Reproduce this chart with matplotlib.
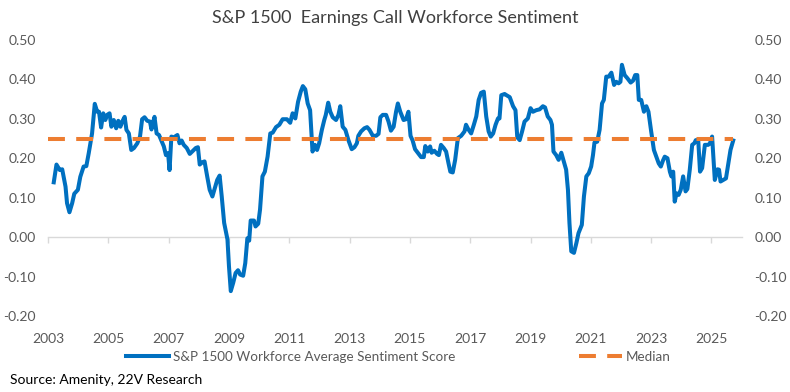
import numpy as np
import matplotlib.pyplot as plt

# Values (decimal year, sentiment score)
YEARS = [
    2003.19, 2003.28, 2003.39, 2003.47, 2003.58, 2003.63, 2003.71, 2003.80, 2003.87, 2003.99,
    2004.07, 2004.18, 2004.27, 2004.35, 2004.46, 2004.55, 2004.63, 2004.69, 2004.76, 2004.83,
    2004.90, 2004.96, 2005.04, 2005.10, 2005.18, 2005.26, 2005.33, 2005.40, 2005.46, 2005.54,
    2005.60, 2005.68, 2005.76, 2005.85, 2005.96, 2006.05, 2006.12, 2006.20, 2006.29, 2006.38,
    2006.43, 2006.49, 2006.53, 2006.60, 2006.68, 2006.75, 2006.84, 2006.91, 2006.98, 2007.03,
    2007.09, 2007.17, 2007.29, 2007.36, 2007.43, 2007.50, 2007.60, 2007.70, 2007.78, 2007.90,
    2007.97, 2008.03, 2008.12, 2008.19, 2008.28, 2008.36, 2008.45, 2008.53, 2008.61, 2008.69,
    2008.76, 2008.84, 2008.95, 2009.00, 2009.06, 2009.14, 2009.22, 2009.30, 2009.37, 2009.47,
    2009.54, 2009.61, 2009.67, 2009.72, 2009.83, 2009.88, 2009.97, 2010.03, 2010.11, 2010.19,
    2010.28, 2010.37, 2010.45, 2010.56, 2010.67, 2010.78, 2010.92, 2011.03, 2011.11, 2011.20,
    2011.29, 2011.38, 2011.45, 2011.53, 2011.61, 2011.69, 2011.77, 2011.85, 2011.92, 2011.99,
    2012.08, 2012.16, 2012.21, 2012.29, 2012.36, 2012.44, 2012.55, 2012.63, 2012.69, 2012.77,
    2012.86, 2012.96, 2013.07, 2013.16, 2013.24, 2013.29, 2013.38, 2013.49, 2013.58, 2013.66,
    2013.77, 2013.88, 2013.96, 2014.02, 2014.10, 2014.21, 2014.29, 2014.37, 2014.46, 2014.54,
    2014.60, 2014.68, 2014.79, 2014.87, 2014.95, 2015.02, 2015.09, 2015.17, 2015.26, 2015.37,
    2015.46, 2015.51, 2015.59, 2015.67, 2015.72, 2015.81, 2015.90, 2015.96, 2016.03, 2016.12,
    2016.20, 2016.28, 2016.34, 2016.42, 2016.50, 2016.59, 2016.70, 2016.81, 2016.86, 2016.94,
    2017.03, 2017.12, 2017.20, 2017.28, 2017.36, 2017.45, 2017.53, 2017.61, 2017.68, 2017.76,
    2017.84, 2017.92, 2017.97, 2018.03, 2018.14, 2018.20, 2018.31, 2018.42, 2018.50, 2018.56,
    2018.64, 2018.72, 2018.80, 2018.91, 2019.00, 2019.08, 2019.19, 2019.30, 2019.41, 2019.48,
    2019.57, 2019.66, 2019.71, 2019.76, 2019.85, 2019.93, 2020.02, 2020.10, 2020.18, 2020.24,
    2020.29, 2020.35, 2020.44, 2020.52, 2020.59, 2020.70, 2020.77, 2020.85, 2020.93, 2021.01,
    2021.07, 2021.12, 2021.21, 2021.29, 2021.37, 2021.43, 2021.51, 2021.59, 2021.68, 2021.77,
    2021.84, 2021.92, 2021.98, 2022.03, 2022.12, 2022.21, 2022.32, 2022.40, 2022.47, 2022.54,
    2022.59, 2022.67, 2022.76, 2022.84, 2022.91, 2023.00, 2023.09, 2023.17, 2023.25, 2023.32,
    2023.39, 2023.45, 2023.54, 2023.62, 2023.67, 2023.73, 2023.78, 2023.84, 2023.91, 2023.98,
    2024.06, 2024.14, 2024.20, 2024.28, 2024.36, 2024.43, 2024.48, 2024.56, 2024.62, 2024.69,
    2024.78, 2024.89, 2024.95, 2025.02, 2025.11, 2025.20, 2025.25, 2025.30, 2025.39, 2025.48,
    2025.56, 2025.63, 2025.72,
]

SCORES = [
    0.139, 0.184, 0.170, 0.172, 0.128, 0.086, 0.063, 0.086, 0.110, 0.120,
    0.153, 0.179, 0.180, 0.213, 0.263, 0.338, 0.318, 0.318, 0.278, 0.314,
    0.297, 0.310, 0.314, 0.280, 0.297, 0.276, 0.295, 0.280, 0.293, 0.305,
    0.272, 0.263, 0.221, 0.226, 0.238, 0.255, 0.299, 0.304, 0.295, 0.293,
    0.273, 0.293, 0.305, 0.263, 0.259, 0.246, 0.230, 0.208, 0.213, 0.170,
    0.255, 0.253, 0.259, 0.238, 0.245, 0.234, 0.226, 0.211, 0.217, 0.226,
    0.228, 0.184, 0.190, 0.192, 0.153, 0.120, 0.103, 0.124, 0.145, 0.156,
    0.103, 0.036, -0.006, -0.074, -0.137, -0.116, -0.091, -0.084, -0.095, -0.098,
    -0.066, -0.003, -0.009, 0.042, 0.042, 0.027, 0.034, 0.070, 0.154, 0.166,
    0.204, 0.263, 0.265, 0.279, 0.285, 0.299, 0.299, 0.290, 0.314, 0.301,
    0.343, 0.369, 0.383, 0.375, 0.339, 0.322, 0.217, 0.234, 0.221, 0.238,
    0.272, 0.297, 0.310, 0.341, 0.318, 0.304, 0.297, 0.310, 0.332, 0.280,
    0.272, 0.246, 0.223, 0.228, 0.238, 0.257, 0.268, 0.276, 0.279, 0.272,
    0.257, 0.257, 0.262, 0.304, 0.310, 0.310, 0.293, 0.270, 0.280, 0.318,
    0.339, 0.318, 0.297, 0.299, 0.318, 0.257, 0.245, 0.223, 0.214, 0.203,
    0.203, 0.231, 0.217, 0.230, 0.214, 0.219, 0.211, 0.208, 0.234, 0.226,
    0.217, 0.187, 0.166, 0.164, 0.196, 0.251, 0.257, 0.268, 0.285, 0.273,
    0.263, 0.285, 0.306, 0.348, 0.366, 0.369, 0.306, 0.268, 0.255, 0.263,
    0.285, 0.301, 0.301, 0.360, 0.363, 0.360, 0.355, 0.332, 0.322, 0.253,
    0.246, 0.268, 0.293, 0.301, 0.327, 0.318, 0.322, 0.324, 0.332, 0.329,
    0.306, 0.297, 0.285, 0.217, 0.208, 0.196, 0.214, 0.192, 0.171, 0.120,
    0.036, -0.036, -0.040, -0.015, 0.010, 0.031, 0.103, 0.154, 0.162, 0.179,
    0.208, 0.240, 0.242, 0.272, 0.339, 0.348, 0.407, 0.407, 0.417, 0.386,
    0.394, 0.390, 0.394, 0.437, 0.411, 0.403, 0.392, 0.397, 0.411, 0.411,
    0.348, 0.348, 0.318, 0.332, 0.318, 0.268, 0.221, 0.204, 0.187, 0.179,
    0.194, 0.204, 0.200, 0.166, 0.154, 0.166, 0.090, 0.111, 0.107, 0.120,
    0.154, 0.116, 0.122, 0.171, 0.234, 0.238, 0.246, 0.246, 0.166, 0.175,
    0.234, 0.234, 0.238, 0.255, 0.145, 0.172, 0.171, 0.141, 0.145, 0.149,
    0.187, 0.221, 0.245,
]

MEDIAN = 0.25
X_TICKS = list(range(2003, 2027, 2))
Y_TICKS = [-0.20, -0.10, 0.00, 0.10, 0.20, 0.30, 0.40, 0.50]

BLUE = '#0070C0'
ORANGE = '#ED7D31'
GREY_TEXT = '#595959'
GREY_LINE = '#D9D9D9'

plt.rcParams['font.family'] = ['Lato', 'DejaVu Sans']


def main():
  fig = plt.figure(figsize=(7.9, 3.92), dpi=100)
  ax = fig.add_axes([0.0608, 0.194, 0.878, 0.704])

  ax.plot(YEARS, SCORES, color=BLUE, lw=2.9, solid_joinstyle='round',
          label='S&P 1500 Workforce Average Sentiment Score')
  ax.plot([X_TICKS[0], YEARS[-1]], [MEDIAN, MEDIAN], color=ORANGE, lw=2.9,
          dashes=(4.2, 2.8), label='Median')

  ax.set_xlim(2003, 2026)
  ax.set_ylim(-0.2, 0.5)
  ax.set_yticks(Y_TICKS)
  ax.set_yticklabels([f'{v:.2f}' for v in Y_TICKS])
  ax.tick_params(axis='y', length=0, labelsize=10, colors=GREY_TEXT,
                 labelleft=True, labelright=True, pad=9)

  # x labels at the bottom, tick marks on the zero line
  ax.set_xticks(X_TICKS)
  ax.set_xticklabels([str(y) for y in X_TICKS])
  ax.tick_params(axis='x', length=0, labelsize=10, colors=GREY_TEXT, pad=12)

  zero_frac = (0 - (-0.2)) / 0.7
  sec = ax.secondary_xaxis(zero_frac)
  sec.set_xticks(X_TICKS)
  sec.tick_params(axis='x', direction='out', length=4, width=1, color=GREY_LINE,
                  labelbottom=False, labeltop=False)
  sec.spines['bottom'].set_color(GREY_LINE)
  sec.spines['top'].set_visible(False)
  sec.spines['bottom'].set_linewidth(1)

  for s in ax.spines.values():
    s.set_visible(False)

  fig.text(0.5, 0.954, 'S&P 1500  Earnings Call Workforce Sentiment',
           ha='center', va='center', fontsize=13, color='#404040')

  fig.legend(loc='center', bbox_to_anchor=(0.504, 0.089), ncol=2, frameon=False,
             fontsize=9.7, handlelength=3.2, handletextpad=0.25, columnspacing=9.2,
             labelcolor=GREY_TEXT)

  fig.text(0.013, 0.03, 'Source: Amenity, 22V Research', ha='left', va='center',
           fontsize=10, color='black')

  fig.savefig('out.png', dpi=100)


if __name__ == '__main__':
  main()
